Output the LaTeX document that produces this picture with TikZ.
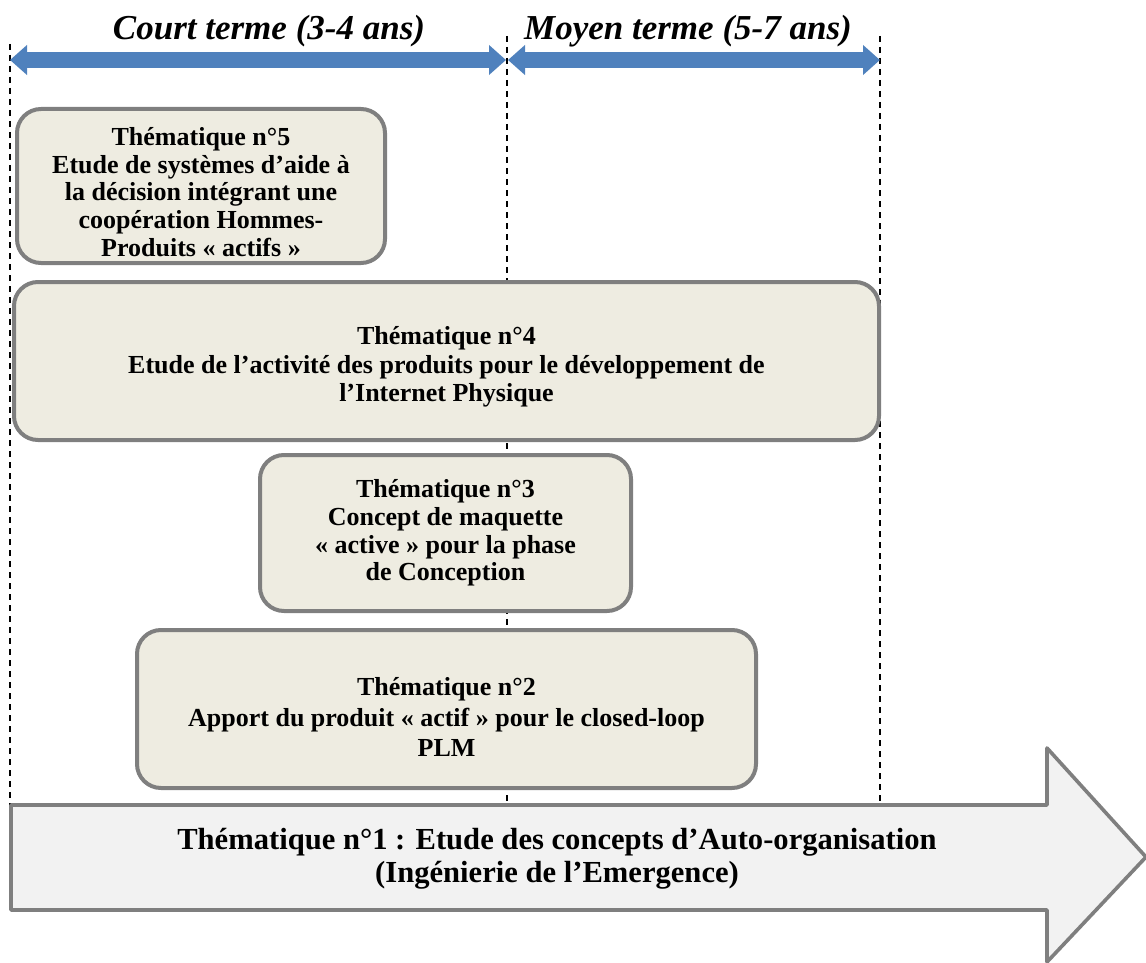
\documentclass[tikz,border=0pt]{standalone}
\usepackage{fontspec}
\setmainfont{Liberation Serif}
\usetikzlibrary{arrows.meta}

\definecolor{bleu}{HTML}{4F81BD}
\definecolor{fondboite}{HTML}{EEECE1}
\definecolor{bord}{HTML}{7F7F7F}
\definecolor{fondfleche}{HTML}{F2F2F2}

\begin{document}
\begin{tikzpicture}[
  x=0.5pt,
  y=-0.5pt,
  line join=round,
  boite/.style={
    draw=bord,
    line width=2pt,
    fill=fondboite,
    rounded corners=12pt,
    inner sep=0pt
  },
  texte/.style={
    inner sep=0pt,
    align=center,
    font=\fontsize{13}{13.8}\selectfont\bfseries
  },
  periode/.style={
    color=bleu,
    line width=8pt,
    {Triangle[length=8.5pt,width=14.5pt]}-{Triangle[length=8.5pt,width=14.5pt]}
  },
  limite/.style={
    line width=0.6pt,
    dash pattern=on 3pt off 2.5pt
  },
  titre/.style={
    anchor=base,
    font=\fontsize{17.5}{21}\selectfont\bfseries\itshape
  }
]
  \useasboundingbox (0,0) rectangle (1146,963);

  % Limites des periodes
  \coordinate (ghaut) at (10,44);
  \coordinate (gbas)  at (10,812);
  \coordinate (mhaut) at (507,36);
  \coordinate (mbas)  at (507,802);
  \coordinate (dhaut) at (880,36);
  \coordinate (dbas)  at (880,802);

  \draw[limite] (ghaut) -- (gbas);
  \draw[limite] (mhaut) -- (mbas);
  \draw[limite] (dhaut) -- (dbas);

  % Periodes
  \coordinate (cg) at (10,60);
  \coordinate (cm) at (506,60);
  \coordinate (mg) at (508,60);
  \coordinate (md) at (880,60);

  \draw[periode] (cg) -- (cm);
  \draw[periode] (mg) -- (md);

  \node[titre] (court) at (269,40) {Court terme (3-4 ans)};
  \node[titre] (moyen) at (688,40) {Moyen terme (5-7 ans)};

  % Thematique 5
  \node[boite, minimum width=184pt, minimum height=77pt]
    (t5) at (201,186) {};
  \node[texte] (t5txt) at ([yshift=-3pt]t5.center)
    {Thématique n°5\\
     Etude de systèmes d’aide à\\
     la décision intégrant une\\
     coopération Hommes-\\
     Produits « actifs »};

  % Thematique 4
  \node[boite, minimum width=432.5pt, minimum height=79pt]
    (t4) at (446.5,361) {};
  \node[texte, font=\fontsize{13}{14.3}\selectfont\bfseries]
    (t4txt) at ([yshift=-3pt]t4.center)
    {Thématique n°4\\
     Etude de l’activité des produits pour le développement de\\
     l’Internet Physique};

  % Thematique 3
  \node[boite, minimum width=185.5pt, minimum height=78pt]
    (t3) at (445.5,533) {};
  \node[texte] (t3txt) at (t3.center)
    {Thématique n°3\\
     Concept de maquette\\
     « active » pour la phase\\
     de Conception};

  % Thematique 2
  \node[boite, minimum width=309.5pt, minimum height=79pt]
    (t2) at (446.5,709) {};
  \node[texte, font=\fontsize{13}{15.3}\selectfont\bfseries]
    (t2txt) at ([yshift=-4pt]t2.center)
    {Thématique n°2\\
     Apport du produit « actif » pour le closed-loop\\
     PLM};

  % Grande fleche
  \draw[bord, line width=1.8pt, fill=fondfleche]
    (11,805) -- (1047,805) -- (1047,748)
    -- (1146,857)
    -- (1047,962) -- (1047,910) -- (11,910) -- cycle;

  \node[align=center, font=\fontsize{15.3}{16.5}\selectfont\bfseries]
    (t1) at (557,859)
    {Thématique n°1 : Etude des concepts d’Auto-organisation\\
     (Ingénierie de l’Emergence)};
\end{tikzpicture}
\end{document}
